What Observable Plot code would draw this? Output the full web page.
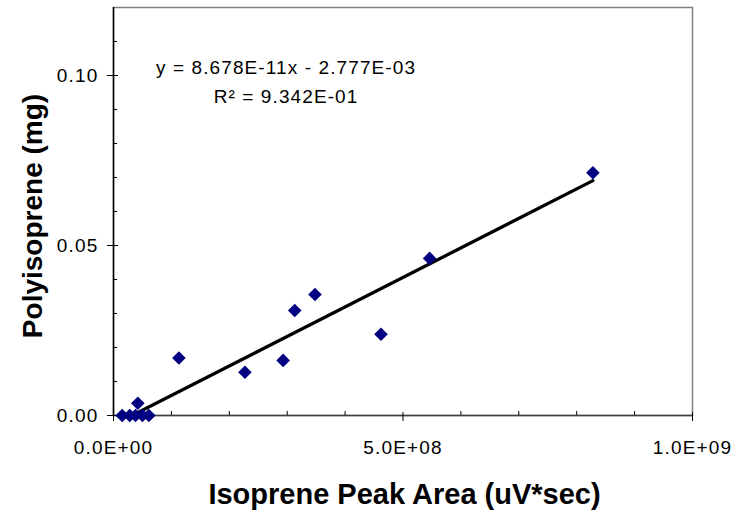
<!DOCTYPE html>
<html>
<head>
<meta charset="utf-8">
<script src="https://cdn.jsdelivr.net/npm/d3@7"></script>
<script src="https://cdn.jsdelivr.net/npm/@observablehq/plot@0.6"></script>
<style>
  body { margin: 0; background: #fff; }
</style>
</head>
<body>
<div id="chart"></div>
<script>
// ---- data ----
const peakArea = [1.5e7, 2.8e7, 3.8e7, 5.0e7, 6.1e7, 4.2e7, 1.13e8, 2.27e8, 2.93e8, 3.13e8, 3.48e8, 4.62e8, 5.46e8, 8.28e8];
const polyisoprene = [0, 0, 0, 0, 0, 0.0036, 0.0169, 0.0127, 0.0162, 0.0309, 0.0356, 0.0239, 0.0462, 0.0714];

// trendline as printed on the chart
const slope = 8.678e-11;
const intercept = -2.777e-3;
const equationLines = ["y = 8.678E-11x - 2.777E-03", "R\u00B2 = 9.342E-01"];
const equationAnchorX = 2.98e8;
const equationAnchorY = 0.1066;

// axes
const xTickValues = [0, 5e8, 1e9];
const xTickLabels = ["0.0E+00", "5.0E+08", "1.0E+09"];
const xMinorTicks = [1e8, 2e8, 3e8, 4e8, 6e8, 7e8, 8e8, 9e8];
const yTickValues = [0, 0.05, 0.10];
const yTickLabels = ["0.00", "0.05", "0.10"];
const yMinorTicks = [0.01, 0.02, 0.03, 0.04, 0.06, 0.07, 0.08, 0.09, 0.11];
const xTitle = "Isoprene Peak Area (uV*sec)";
const yTitle = "Polyisoprene (mg)";

// ---- layout ----
const W = 734, H = 517;
const mL = 113, mR = 42, mT = 7, mB = 102;
const plotW = W - mL - mR, plotH = H - mT - mB;

const points = peakArea.map((x, i) => ({x, y: polyisoprene[i]}));
const xExtent = d3.extent(peakArea);
const trend = xExtent.map(x => ({x, y: slope * x + intercept}));

const diamond = {
  draw(ctx, size) {
    const r = Math.sqrt(size / Math.PI);
    ctx.moveTo(0, -r); ctx.lineTo(r, 0); ctx.lineTo(0, r); ctx.lineTo(-r, 0); ctx.closePath();
  }
};

const chart = Plot.plot({
  width: W, height: H,
  marginLeft: mL, marginRight: mR, marginTop: mT, marginBottom: mB,
  style: {fontFamily: "'Liberation Sans', Arial, sans-serif", fontSize: "18px", color: "#000", background: "#fff"},
  x: {domain: [0, 1e9], axis: null},
  y: {domain: [0, 0.12], axis: null},
  marks: [
    Plot.frame({stroke: "#808080", strokeWidth: 1.5}),
    Plot.ruleY([0], {stroke: "#404040", strokeWidth: 1.5}),
    Plot.ruleX([0], {stroke: "#000", strokeWidth: 1.5}),
    // major ticks (cross the axis), minor ticks (inside)
    Plot.tickX(xTickValues, {x: d => d, stroke: "#000", insetTop: plotH - 3, insetBottom: -6}),
    Plot.tickX(xMinorTicks, {x: d => d, stroke: "#000", insetTop: plotH - 4, insetBottom: 0}),
    Plot.tickY(yTickValues, {y: d => d, stroke: "#000", insetLeft: -6, insetRight: plotW - 5}),
    Plot.tickY(yMinorTicks, {y: d => d, stroke: "#000", insetLeft: 0, insetRight: plotW - 4}),
    // tick labels as text marks anchored to the frame edges
    Plot.text(xTickValues, {x: d => d, frameAnchor: "bottom", text: d => xTickLabels[xTickValues.indexOf(d)],
      textAnchor: "middle", lineAnchor: "top", dy: 25, fontSize: 19, fill: "#000"}),
    Plot.text(yTickValues, {y: d => d, frameAnchor: "left", text: d => yTickLabels[yTickValues.indexOf(d)],
      textAnchor: "end", lineAnchor: "middle", dx: -15, fontSize: 19, fill: "#000"}),
    Plot.line(trend, {x: "x", y: "y", stroke: "#000", strokeWidth: 3.3, clip: true}),
    Plot.dot(points, {x: "x", y: "y", symbol: diamond, r: 6.8, fill: "#000080", stroke: "none"}),
    Plot.text([equationLines.join("\n")], {
      x: () => equationAnchorX, y: () => equationAnchorY, text: d => d,
      textAnchor: "middle", lineAnchor: "top", lineHeight: 1.53, fontSize: 19, fill: "#000"
    }),
    Plot.text([xTitle], {frameAnchor: "bottom", textAnchor: "middle", lineAnchor: "top", dy: 67.7, dx: 1.5, fontSize: 29, fontWeight: "bold", fill: "#000"}),
    Plot.text([yTitle], {frameAnchor: "left", textAnchor: "middle", lineAnchor: "top", rotate: -90, dx: -91, dy: 4.5, fontSize: 28, fontWeight: "bold", fill: "#000"})
  ]
});
// Excel-like wider glyph spacing for the small texts
const tickSet = new Set([...xTickLabels, ...yTickLabels]);
d3.select(chart).selectAll("text").each(function () {
  const t = this.textContent;
  if (tickSet.has(t)) this.style.letterSpacing = "1.2px";
  else if (t.startsWith("y =")) this.style.letterSpacing = "1.1px";
});
document.getElementById("chart").appendChild(chart);
</script>
</body>
</html>
